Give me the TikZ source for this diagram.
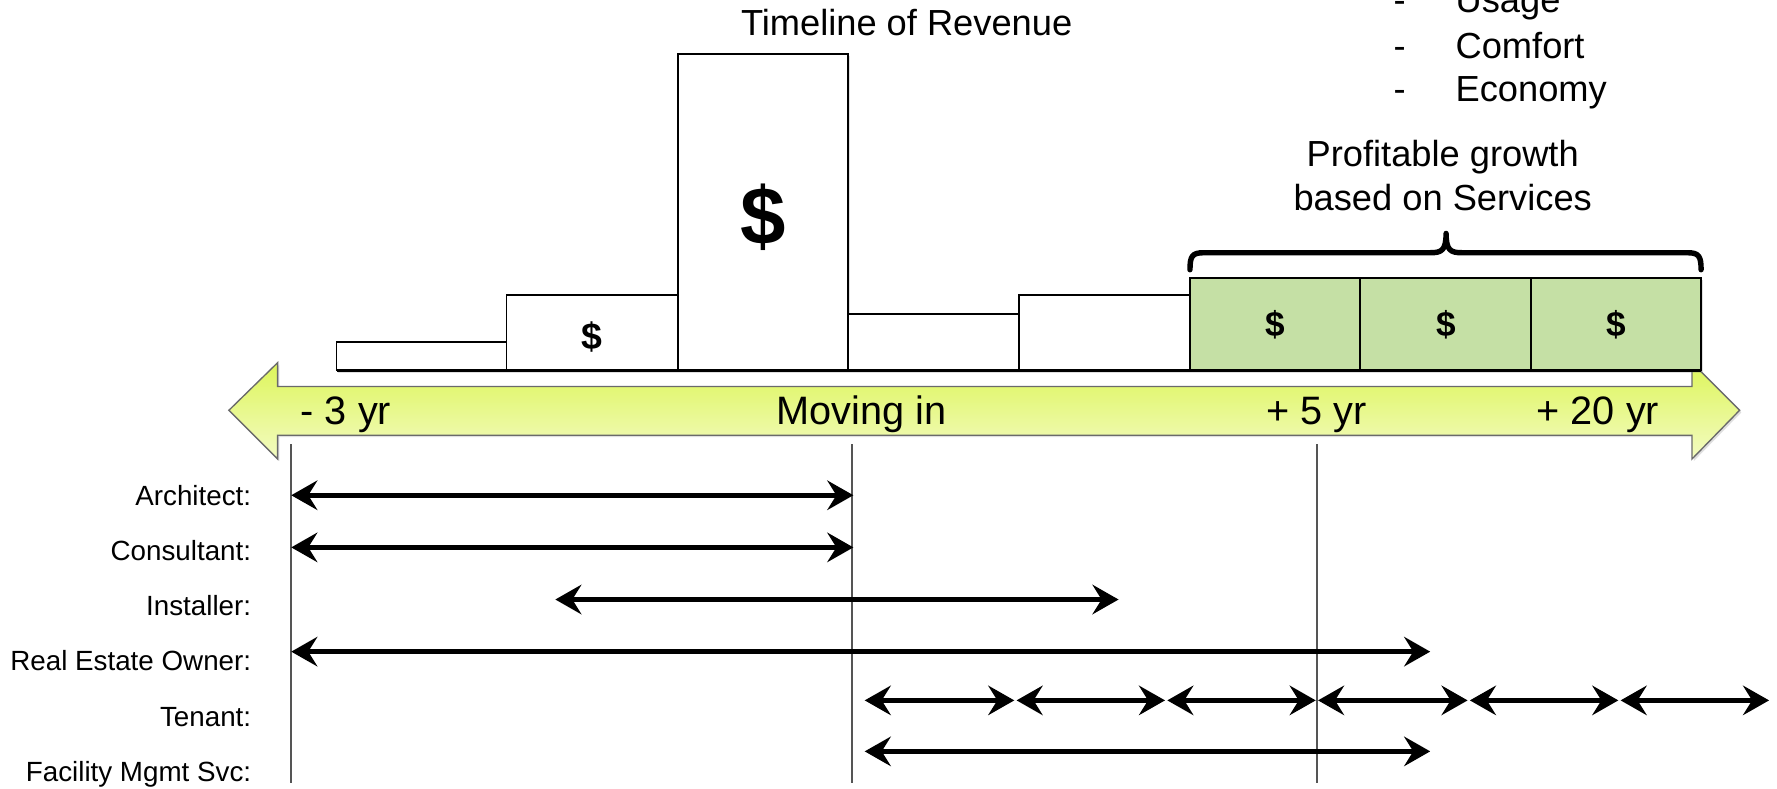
\documentclass[tikz,border=0pt]{standalone}
\usepackage{fontspec}
\setmainfont{Liberation Sans}
\usetikzlibrary{arrows.meta,shadows}
\definecolor{barGreen}{HTML}{C5E0A5}
\definecolor{arrTop}{HTML}{DDF55A}
\definecolor{arrBot}{HTML}{F3FBC2}
\definecolor{vline}{HTML}{555555}
\definecolor{arrEdge}{HTML}{6A6A6A}
\begin{document}
\begin{tikzpicture}[x=0.5pt,y=-0.5pt,
  bar/.style={draw=black, line width=0.8pt, fill=white},
  gbar/.style={bar, fill=barGreen},
  shadowed/.style={drop shadow={opacity=0.25,shadow xshift=0.8pt,shadow yshift=-0.9pt}},
  dollar/.style={inner sep=0pt, font=\bfseries\fontsize{16.5}{18}\selectfont},
  gdollar/.style={inner sep=0pt, font=\bfseries\fontsize{15.5}{18}\selectfont},
  bigdollar/.style={inner sep=0pt, font=\bfseries\fontsize{36}{40}\selectfont},
  role/.style={line width=2.1pt, {Stealth[length=11.5pt,width=13pt,inset=4pt]}-{Stealth[length=11.5pt,width=13pt,inset=4pt]}},
  lbl/.style={anchor=base east, inner sep=0pt, font=\fontsize{12.25}{14}\selectfont},
  axl/.style={anchor=base, inner sep=0pt, font=\fontsize{17.5}{20}\selectfont},
  txt/.style={anchor=base, inner sep=0pt, font=\fontsize{16}{19}\selectfont},
  vl/.style={draw=vline, line width=0.7pt},
  brace/.style={line width=2.4pt, line cap=round, line join=round}
]
\useasboundingbox (0,0) rectangle (1568,696);
\fill[white] (0,0) rectangle (1568,696);

% timeline arrow
\path[shadowed, draw=arrEdge, line width=0.6pt, top color=arrTop, bottom color=arrBot]
  (202,362) -- (245,320) -- (245,341) -- (1493,341) -- (1493,320) -- (1535,362)
  -- (1493,405) -- (1493,384) -- (245,384) -- (245,405) -- cycle;

% revenue bars
\path[shadowed, bar] (297,302) rectangle (447,327);
\path[shadowed, bar] (447,260) rectangle (598,327);
\path[shadowed, bar] (598,48) rectangle (748,327);
\path[shadowed, bar] (748,277) rectangle (899,327);
\path[shadowed, bar] (899,260) rectangle (1050,327);
\path[shadowed, gbar] (1050,245) rectangle (1200,327);
\path[shadowed, gbar] (1200,245) rectangle (1351,327);
\path[shadowed, gbar] (1351,245) rectangle (1501,327);
\draw[line width=1.3pt] (297,327) -- (1501,327);

\node[dollar] (d2) at (522,297) {\$};
\node[bigdollar] (d3) at (673,192) {\$};
\node[gdollar] (g1) at (1125,287) {\$};
\node[gdollar] (g2) at (1276,287) {\$};
\node[gdollar] (g3) at (1426,287) {\$};

% brace
\draw[brace] (1050,238) .. controls (1050,226) and (1052,223) .. (1062,223) -- (1262,223)
  .. controls (1272,223) and (1276,221) .. (1276,206)
  .. controls (1276,221) and (1280,223) .. (1290,223) -- (1489,223)
  .. controls (1499,223) and (1501,226) .. (1501,238);

% texts at top
\node[txt] (title) at (800,31) {Timeline of Revenue};
\node[txt] (pg1) at (1273,147) {Profitable growth};
\node[txt] (pg2) at (1273,186) {based on Services};
\node[txt] (dash1) at (1235,11) {-};
\node[txt] (dash2) at (1235,51.5) {-};
\node[txt] (dash3) at (1235,89.7) {-};
\node[txt, anchor=base west] (usage) at (1284,11) {Usage};
\node[txt, anchor=base west] (comfort) at (1284,51.5) {Comfort};
\node[txt, anchor=base west] (economy) at (1284,89.7) {Economy};

% axis labels
\node[axl, anchor=base west] (m3) at (265,375) {- 3 yr};
\node[axl] (mov) at (760,375) {Moving in};
\node[axl] (p5) at (1162,375) {+ 5 yr};
\node[axl] (p20) at (1410,375) {+ 20 yr};

% vertical guide lines
\coordinate (v1t) at (257,392); \coordinate (v1b) at (257,691);
\coordinate (v2t) at (752,392); \coordinate (v2b) at (752,691);
\coordinate (v3t) at (1162,392); \coordinate (v3b) at (1162,691);
\draw[vl] (v1t) -- (v1b);
\draw[vl] (v2t) -- (v2b);
\draw[vl] (v3t) -- (v3b);

% role labels
\node[lbl] (arch) at (222,445.6) {Architect:};
\node[lbl] (cons) at (222,494.4) {Consultant:};
\node[lbl] (inst) at (222,543.2) {Installer:};
\node[lbl] (reo) at (222,592) {Real Estate Owner:};
\node[lbl] (ten) at (222,640.8) {Tenant:};
\node[lbl] (fac) at (222,689.6) {Facility Mgmt Svc:};

% role arrows
\coordinate (a1) at (257,437); \coordinate (a2) at (753,437);
\coordinate (c1) at (257,483); \coordinate (c2) at (753,483);
\coordinate (i1) at (490,529); \coordinate (i2) at (987,529);
\coordinate (r1) at (257,575); \coordinate (r2) at (1262,575);
\coordinate (f1) at (763,663); \coordinate (f2) at (1262,663);
\draw[role] (a1) -- (a2);
\draw[role] (c1) -- (c2);
\draw[role] (i1) -- (i2);
\draw[role] (r1) -- (r2);
\draw[role] (f1) -- (f2);
\coordinate (t1s) at (763,618);  \coordinate (t1e) at (895,618);
\coordinate (t2s) at (897,618);  \coordinate (t2e) at (1028,618);
\coordinate (t3s) at (1030,618); \coordinate (t3e) at (1161,618);
\coordinate (t4s) at (1163,618); \coordinate (t4e) at (1295,618);
\coordinate (t5s) at (1297,618); \coordinate (t5e) at (1428,618);
\coordinate (t6s) at (1430,618); \coordinate (t6e) at (1561,618);
\draw[role] (t1s) -- (t1e);
\draw[role] (t2s) -- (t2e);
\draw[role] (t3s) -- (t3e);
\draw[role] (t4s) -- (t4e);
\draw[role] (t5s) -- (t5e);
\draw[role] (t6s) -- (t6e);
\end{tikzpicture}
\end{document}
